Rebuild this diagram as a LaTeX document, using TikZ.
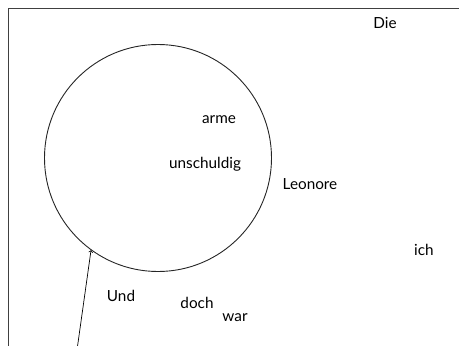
\documentclass[tikz,border=0pt]{standalone}
\usepackage{fontspec}
\setmainfont{Lato}
\begin{document}
\begin{tikzpicture}[x=1pt, y=-1pt, line width=0.9pt,
    wort/.style={inner sep=0pt, font=\fontsize{15.3}{18}\selectfont}]
    \useasboundingbox (0,0) rectangle (459,346);
    \clip (0,0) rectangle (459,346);

    % Rahmen
    \draw[black!75] (8,8) rectangle (480,380);

    % Kreis
    \node[circle, draw, black!85, minimum size=227pt, inner sep=0pt] (kreis) at (158,158) {};

    % Woerter
    \node[wort] (die) at (385,23) {Die};
    \node[wort] (arme) at (219,120) {arme};
    \node[wort] (unschuldig) at (205,164) {unschuldig};
    \node[wort] (leonore) at (310,184) {Leonore};
    \node[wort] (ich) at (424,250) {ich};
    \node[wort] (und) at (121,296) {Und};
    \node[wort] (doch) at (197,303) {doch};
    \node[wort] (war) at (235,318) {war};

    % Pfeil
    \coordinate (fuss) at (77,350);
    \draw[->, line width=0.7pt] (fuss) -- (kreis.234.5);
\end{tikzpicture}
\end{document}
